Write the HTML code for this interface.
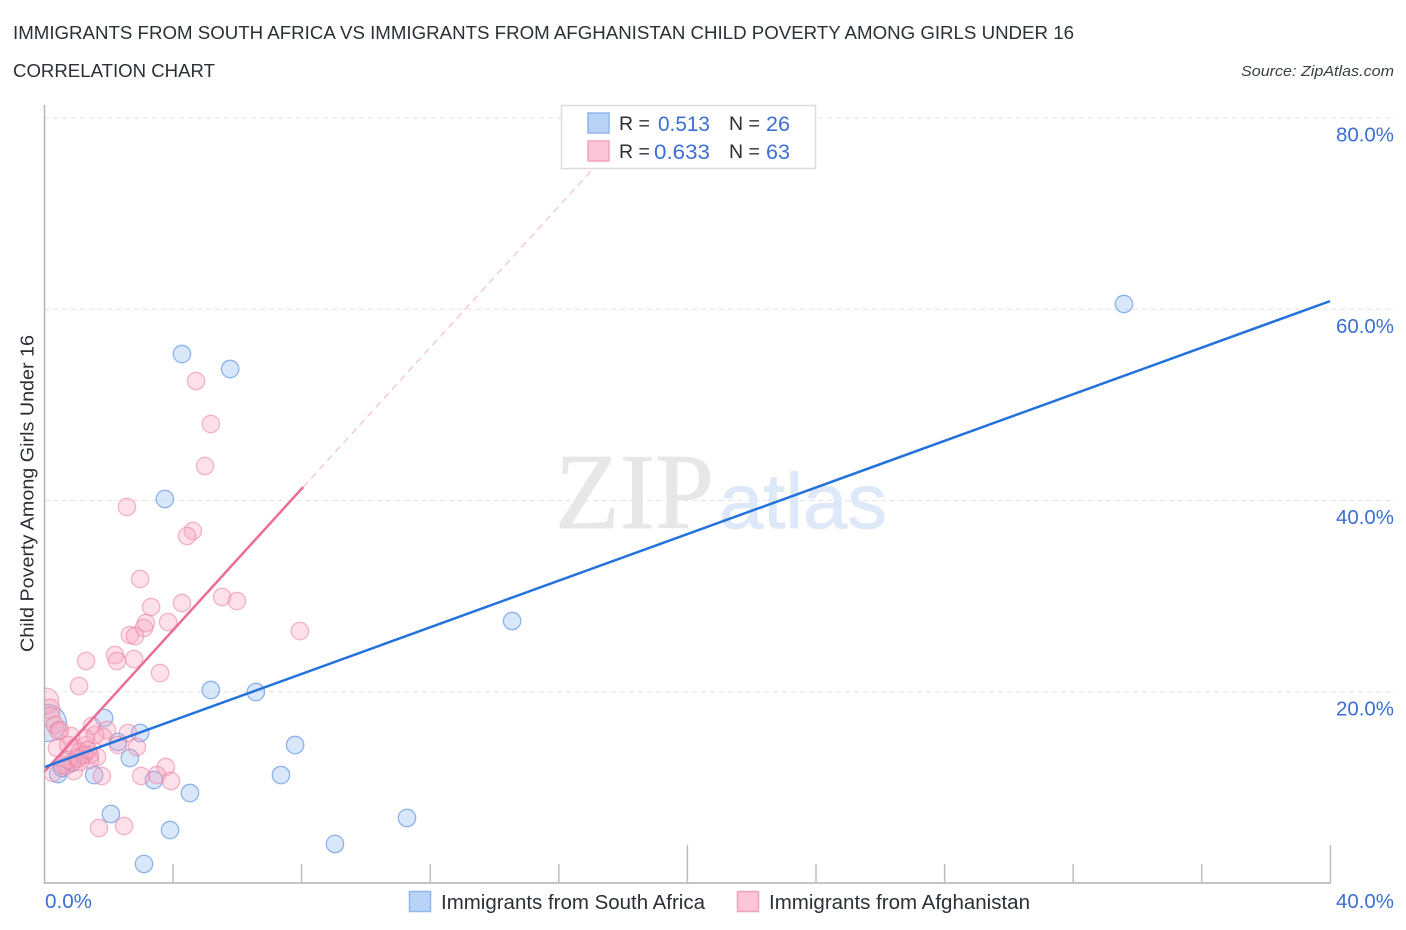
<!DOCTYPE html>
<html lang="en">
<head>
<meta charset="utf-8">
<title>Immigrants from South Africa vs Immigrants from Afghanistan Child Poverty Correlation Chart</title>
<style>
html,body{margin:0;padding:0;background:#fff;width:1406px;height:930px;overflow:hidden}
svg{display:block}
text{font-family:"Liberation Sans",sans-serif}
</style>
</head>
<body>
<svg id="chart" xmlns="http://www.w3.org/2000/svg" width="1406" height="930" viewBox="0 0 1406 930">
  <defs>
    <clipPath id="plot-clip"><rect x="44" y="100" width="1362" height="783"/></clipPath>
  </defs>
  <text x="13" y="39" font-size="18.5" fill="#2b2f36" textLength="1061" lengthAdjust="spacingAndGlyphs">IMMIGRANTS FROM SOUTH AFRICA VS IMMIGRANTS FROM AFGHANISTAN CHILD POVERTY AMONG GIRLS UNDER 16</text>
  <text x="13" y="77" font-size="18.5" fill="#2b2f36" textLength="202" lengthAdjust="spacingAndGlyphs">CORRELATION CHART</text>
  <text x="1241" y="76" font-size="15" font-style="italic" fill="#3a3f47" textLength="153" lengthAdjust="spacingAndGlyphs">Source: ZipAtlas.com</text>

  <g id="grid-layer"></g>

  <text x="555" y="528" font-size="108" style="font-family:'Liberation Serif',serif" fill="#e7e7e7" stroke="#e7e7e7" stroke-width="0.8" textLength="159" lengthAdjust="spacingAndGlyphs">ZIP</text>
  <text x="719" y="528" font-size="78" fill="#dde8f8" stroke="#dde8f8" stroke-width="0.8" textLength="168" lengthAdjust="spacingAndGlyphs">atlas</text>

  <g id="blue-layer" clip-path="url(#plot-clip)"></g>
  <g id="pink-layer" clip-path="url(#plot-clip)"></g>
  <g id="trend-layer"></g>
  <g id="axis-layer"></g>

  <text transform="translate(33.5,652) rotate(-90)" x="0" y="0" font-size="18.5" fill="#2b2f36" textLength="317" lengthAdjust="spacingAndGlyphs">Child Poverty Among Girls Under 16</text>

  <g>
    <rect x="561.5" y="105.5" width="254" height="63" fill="#fff" stroke="#dcdcdc" stroke-width="1.5"/>
    <rect x="588" y="113" width="21" height="20" fill="#b9d3f7" stroke="#8fb5ea" stroke-width="1.5"/>
    <rect x="588" y="141" width="21" height="20" fill="#fcc5d8" stroke="#f0a3bd" stroke-width="1.5"/>
    <text x="619" y="130" font-size="19.5" fill="#2b2f36">R =</text>
    <text x="658" y="131" font-size="21" fill="#3b70d2" textLength="52" lengthAdjust="spacingAndGlyphs">0.513</text>
    <text x="729" y="130" font-size="19.5" fill="#2b2f36">N =</text>
    <text x="766" y="131" font-size="21" fill="#3b70d2" textLength="24" lengthAdjust="spacingAndGlyphs">26</text>
    <text x="619" y="158" font-size="19.5" fill="#2b2f36">R =</text>
    <text x="654" y="159" font-size="21" fill="#3b70d2" textLength="56" lengthAdjust="spacingAndGlyphs">0.633</text>
    <text x="729" y="158" font-size="19.5" fill="#2b2f36">N =</text>
    <text x="766" y="159" font-size="21" fill="#3b70d2" textLength="24" lengthAdjust="spacingAndGlyphs">63</text>
  </g>

  <g>
    <rect x="409.5" y="891.5" width="21" height="20" fill="#b9d3f7" stroke="#8fb5ea" stroke-width="1.5"/>
    <text x="441" y="909" font-size="20" fill="#2b2f36" textLength="264" lengthAdjust="spacingAndGlyphs">Immigrants from South Africa</text>
    <rect x="737.5" y="891.5" width="21" height="20" fill="#fcc5d8" stroke="#f0a3bd" stroke-width="1.5"/>
    <text x="769" y="909" font-size="20" fill="#2b2f36" textLength="261" lengthAdjust="spacingAndGlyphs">Immigrants from Afghanistan</text>
  </g>
</svg>
<script>
const xTickValues = [0, 4, 8, 12, 16, 20, 24, 28, 32, 36, 40];
const xMajorTicks = [20, 40];
const xTickLabels = ["0.0%", "40.0%"];
const xLabelValues = [0, 40];
const yTickValues = [20, 40, 60, 80];
const yTickLabels = ["20.0%", "40.0%", "60.0%", "80.0%"];

const blueX = [33.59,4.29,5.79,3.76,14.56,5.19,6.59,1.87,2.99,7.81,2.67,7.37,3.42,4.54,2.08,11.29,3.92,9.05,3.11,0.44,1.56,0.12,2.30,0.87,1.24,0.56];
const blueY = [60.55,55.32,53.75,40.16,27.40,20.18,19.97,17.25,15.69,14.43,13.07,11.29,10.77,9.41,7.22,6.80,5.54,4.08,1.99,11.40,11.29,16.73,14.75,12.55,13.39,12.03];
const blueWeight = [1,1,1,1,1,1,1,1,1,1,1,1,1,1,1,1,1,1,1,1,1,4.5,1,1,1,1];

const pinkX = [4.73,5.19,5.01,2.58,4.63,4.45,2.99,3.33,4.29,5.54,6.00,3.86,3.17,3.11,7.96,2.67,2.83,2.21,2.27,2.80,1.31,3.61,1.09,0.06,0.19,0.19,0.34,0.44,1.49,1.96,2.61,1.84,0.84,0.75,1.31,0.40,2.89,2.30,1.12,1.65,1.43,1.24,3.79,3.51,3.02,3.95,1.80,0.93,0.28,0.68,1.43,0.87,1.12,1.71,2.49,0.50,0.96,1.59,1.28,0.56,0.75,1.06,1.37];
const pinkY = [52.50,48.00,43.61,39.32,36.81,36.29,31.79,28.86,29.28,29.91,29.49,27.29,27.19,26.67,26.35,25.93,25.83,23.84,23.22,23.42,23.22,21.96,20.60,19.03,18.20,17.36,16.52,15.90,16.42,16.00,15.69,15.27,15.37,14.43,14.43,14.12,14.22,14.43,13.70,13.18,13.39,13.39,12.13,11.29,11.19,10.67,11.19,11.71,11.50,12.24,12.86,12.65,12.65,5.75,5.96,16.00,14.12,15.48,15.16,12.34,12.86,13.07,13.91];
const pinkWeight = [1,1,1,1,1,1,1,1,1,1,1,1,1,1,1,1,1,1,1,1,1,1,1,2.2,1.3,1.3,1,1,1,1,1,1,1,1,1,1,1,1,1,1,1,1,1,1,1,1,1,1,1,1,1,1,1,1,1,1,1,1,1,1,1,1,1];

const blueTrendX = [0, 40];
const blueTrendY = [12.1, 60.85];
const pinkTrendX = [0, 8.06];
const pinkTrendY = [11.6, 41.4];
const pinkProjectionX = [8.06, 18];
const pinkProjectionY = [41.4, 78.1];

const NS = "http://www.w3.org/2000/svg";
const xScale = v => 44 + v * 32.15;
const yScale = v => 883 - v * 9.5625;
const baseRadius = 8.7;

function make(tag, parent, attrs) {
  const node = document.createElementNS(NS, tag);
  for (const k in attrs) node.setAttribute(k, attrs[k]);
  parent.appendChild(node);
  return node;
}

const gridLayer = document.getElementById("grid-layer");
const axisLayer = document.getElementById("axis-layer");
const pinkLayer = document.getElementById("pink-layer");
const blueLayer = document.getElementById("blue-layer");
const trendLayer = document.getElementById("trend-layer");

yTickValues.forEach((v, i) => {
  const g = make("line", gridLayer, {x1: 44, x2: 1395, y1: yScale(v), y2: yScale(v), stroke: "#e4e4e4", "stroke-width": 1, "stroke-dasharray": "5 4"});
  
  
  const t = make("text", axisLayer, {x: 1394, y: yScale(v) + 23.5, "font-size": 20, fill: "#3b70d2", "text-anchor": "end", textLength: 58, lengthAdjust: "spacingAndGlyphs"});
  t.textContent = yTickLabels[i];
  
  
});

xTickValues.forEach(v => {
  if (v === 0) return;
  const top = xMajorTicks.includes(v) ? 845 : 864;
  const tick = make("line", axisLayer, {x1: xScale(v) + 0.4, x2: xScale(v) + 0.4, y1: top, y2: 883, stroke: "#bdbdbd", "stroke-width": 1.5});
  
  
});

xLabelValues.forEach((v, i) => {
  const t = make("text", axisLayer, {x: v === 0 ? 45 : 1394, y: 908, "font-size": 20, fill: "#3b70d2", "text-anchor": v === 0 ? "start" : "end", textLength: v === 0 ? 47 : 58, lengthAdjust: "spacingAndGlyphs"});
  t.textContent = xTickLabels[i];
  
  
});

const yAxis = make("line", axisLayer, {x1: 44.5, x2: 44.5, y1: 105, y2: 884, stroke: "#b5b5b5", "stroke-width": 1.5});


const xAxis = make("line", axisLayer, {x1: 44, x2: 1331, y1: 883, y2: 883, stroke: "#bdbdbd", "stroke-width": 1.8});



blueX.forEach((v, i) => {
  const c = make("circle", blueLayer, {cx: xScale(v), cy: yScale(blueY[i]), r: baseRadius * Math.sqrt(blueWeight[i]), fill: "#a9c9f4", "fill-opacity": 0.45, stroke: "#6a9ae2", "stroke-opacity": 0.72, "stroke-width": 1.3});
  
  
});

pinkX.forEach((v, i) => {
  const c = make("circle", pinkLayer, {cx: xScale(v), cy: yScale(pinkY[i]), r: baseRadius * Math.sqrt(pinkWeight[i]), fill: "#f8a5bf", "fill-opacity": 0.34, stroke: "#ea7fa2", "stroke-opacity": 0.55, "stroke-width": 1.3});
  
  
});

const projection = make("line", trendLayer, {x1: xScale(pinkProjectionX[0]), y1: yScale(pinkProjectionY[0]), x2: xScale(pinkProjectionX[1]), y2: yScale(pinkProjectionY[1]), stroke: "#f0b4c8", "stroke-width": 1, "stroke-dasharray": "7 5"});



const pinkTrend = make("line", trendLayer, {x1: xScale(pinkTrendX[0]), y1: yScale(pinkTrendY[0]), x2: xScale(pinkTrendX[1]), y2: yScale(pinkTrendY[1]), stroke: "#ec6b97", "stroke-width": 2.5});



const blueTrend = make("line", trendLayer, {x1: xScale(blueTrendX[0]), y1: yScale(blueTrendY[0]), x2: xScale(blueTrendX[1]), y2: yScale(blueTrendY[1]), stroke: "#2372dc", "stroke-width": 2.5});


</script>
</body>
</html>
